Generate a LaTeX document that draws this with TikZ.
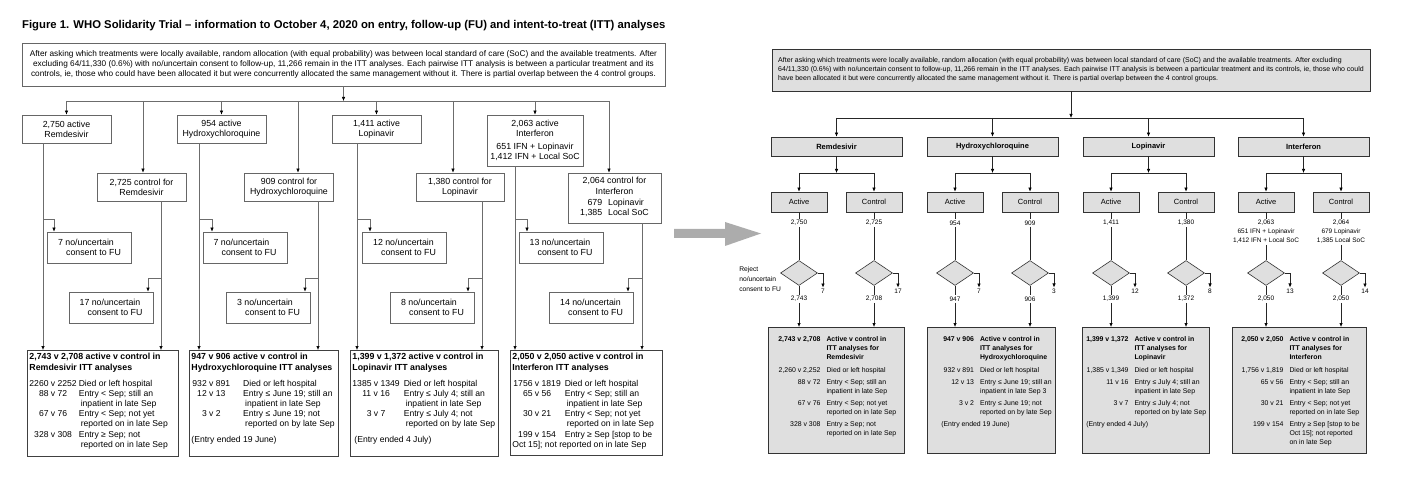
\documentclass[tikz,border=0pt]{standalone}
\usepackage{fontspec}
\setmainfont{Liberation Sans}
\usetikzlibrary{positioning,shapes.geometric,arrows.meta}

% fixed-size box content, text starting at the top
\newcommand{\fillbox}[3]{\parbox[c][#2][t]{#1}{\raggedright #3}}

\begin{document}
\begin{tikzpicture}[x=1pt, y=-1pt,
    >={Latex[length=4pt,width=3.4pt,color=black]},
    boxL/.style={draw=gray!80!black, line width=0.6pt, align=center, inner sep=2pt, font=\fontsize{8.8}{10.2}\selectfont},
    noteL/.style={boxL, align=left, minimum width=84pt, minimum height=31pt},
    resL/.style={draw=black!75, line width=0.9pt, anchor=north west, inner xsep=2pt, inner ysep=3pt, font=\fontsize{8.8}{10.2}\selectfont},
    lineL/.style={draw=gray!85!black, line width=0.6pt},
    boxR/.style={draw=black!80, fill=gray!25, line width=0.6pt, inner sep=1pt},
    headR/.style={boxR, minimum width=131pt, minimum height=19pt, font=\bfseries\fontsize{7.5}{9}\selectfont},
    armR/.style={boxR, minimum width=56pt, minimum height=20pt, font=\fontsize{7.5}{9}\selectfont},
    numR/.style={inner sep=1pt, align=center, font=\fontsize{6.5}{9}\selectfont},
    checkR/.style={diamond, aspect=1.5, draw=black!80, fill=gray!25, line width=0.6pt, inner sep=0pt, minimum width=37pt, minimum height=25pt},
    resR/.style={boxR, anchor=north west, inner xsep=0pt, inner ysep=8pt, font=\fontsize{6.9}{9}\selectfont},
    lineR/.style={draw=black!85, line width=0.6pt},
]
    \useasboundingbox (0,0) rectangle (1402,478);

    % ---------- original figure ----------
    \node[anchor=west, inner sep=0pt, font=\bfseries\fontsize{11.3}{13}\selectfont] (title) at (22,26)
        {Figure 1. WHO Solidarity Trial – information to October 4, 2020 on entry, follow-up (FU) and intent-to-treat (ITT) analyses};
    \node[boxL, minimum width=643pt, minimum height=43pt, font=\fontsize{8.25}{10}\selectfont] (introL) at (343.5,64.5)
        {After asking which treatments were locally available, random allocation (with equal probability) was between local standard of care (SoC) and the available treatments. After\\
         excluding 64/11,330 (0.6\%) with no/uncertain consent to follow-up, 11,266 remain in the ITT analyses. Each pairwise ITT analysis is between a particular treatment and its\\
         controls, ie, those who could have been allocated it but were concurrently allocated the same management without it. There is partial overlap between the 4 control groups.};
    \coordinate (joinL) at (343.5,101);

    % nodes
    \node[boxL, minimum width=89pt, minimum height=28pt] (remA) at (66.5,129)  {2,750 active\\Remdesivir};
    \node[boxL, minimum width=89pt, minimum height=28pt] (remC) at (141.5,187) {2,725 control for\\Remdesivir};
    \node[boxL, minimum width=89pt, minimum height=28pt] (hydA) at (221.5,129) {954 active\\Hydroxychloroquine};
    \node[boxL, minimum width=89pt, minimum height=28pt] (hydC) at (289,187)   {909 control for\\Hydroxychloroquine};
    \node[boxL, minimum width=89pt, minimum height=28pt] (lopA) at (376.5,129) {1,411 active\\Lopinavir};
    \node[boxL, minimum width=88pt, minimum height=28pt] (lopC) at (460,187)   {1,380 control for\\Lopinavir};
    \node[boxL, minimum width=96pt, minimum height=51pt] (intA) at (535,140.5)
        {2,063 active\\Interferon\\[3pt]651 IFN + Lopinavir\\1,412 IFN + Local SoC};
    \node[boxL, minimum width=93pt, minimum height=50pt] (intC) at (614.5,198)
        {2,064 control for\\Interferon\\[3pt]\begin{tabular}{@{}r@{\hspace{6pt}}l@{}}679&Lopinavir\\1,385&Local SoC\end{tabular}};

    \node[noteL] (remAn) at (89.5,247.5)  {7 no/uncertain\\\hspace*{8pt}consent to FU};
    \node[noteL] (remCn) at (111,307.5)   {17 no/uncertain\\\hspace*{8pt}consent to FU};
    \node[noteL] (hydAn) at (245,247.5)   {7 no/uncertain\\\hspace*{8pt}consent to FU};
    \node[noteL] (hydCn) at (268.5,307.5) {3 no/uncertain\\\hspace*{8pt}consent to FU};
    \node[noteL] (lopAn) at (404.5,247.5) {12 no/uncertain\\\hspace*{8pt}consent to FU};
    \node[noteL] (lopCn) at (432.5,307.5) {8 no/uncertain\\\hspace*{8pt}consent to FU};
    \node[noteL] (intAn) at (561,247.5)   {13 no/uncertain\\\hspace*{8pt}consent to FU};
    \node[noteL] (intCn) at (591.5,307.5) {14 no/uncertain\\\hspace*{8pt}consent to FU};

    \node[resL] (remR) at (27,350) {\fillbox{147pt}{100pt}{%
        \textbf{2,743 v 2,708 active v control in\\Remdesivir ITT analyses}\par\vspace{5.8pt}
        \fontsize{8.6}{10.2}\selectfont
        \begin{tabular}[t]{@{}c@{\hspace{2pt}}l@{}}
        2260 v 2252 & Died or left hospital\\
        88 v 72     & Entry < Sep; still an\\
                    & \hspace{2pt}inpatient in late Sep\\
        67 v 76     & Entry < Sep; not yet\\
                    & \hspace{2pt}reported on in late Sep\\
        328 v 308   & Entry ≥ Sep; not\\
                    & \hspace{2pt}reported on in late Sep
        \end{tabular}}};
    \node[resL] (hydR) at (189,350) {\fillbox{145pt}{100pt}{%
        \textbf{947 v 906 active v control in\\Hydroxychloroquine ITT analyses}\par\vspace{5.8pt}
        \fontsize{8.6}{10.2}\selectfont
        \begin{tabular}[t]{@{\hspace{1pt}}c@{\hspace{13pt}}l@{}}
        932 v 891 & Died or left hospital\\
        12 v 13   & Entry ≤ June 19; still an\\
                  & \hspace{2pt}inpatient in late Sep\\
        3 v 2     & Entry ≤ June 19; not\\
                  & \hspace{2pt}reported on by late Sep\\[5.8pt]
        \multicolumn{2}{@{}l@{}}{(Entry ended 19 June)}
        \end{tabular}}};
    \node[resL] (lopR) at (350,350) {\fillbox{144pt}{100pt}{%
        \textbf{1,399 v 1,372 active v control in\\Lopinavir ITT analyses}\par\vspace{5.8pt}
        \fontsize{8.6}{10.2}\selectfont
        \begin{tabular}[t]{@{}c@{\hspace{4pt}}l@{}}
        1385 v 1349 & Died or left hospital\\
        11 v 16     & Entry ≤ July 4; still an\\
                    & \hspace{2pt}inpatient in late Sep\\
        3 v 7       & Entry ≤ July 4; not\\
                    & \hspace{2pt}reported on by late Sep\\[5.8pt]
        \multicolumn{2}{@{\hspace{2pt}}l@{}}{(Entry ended 4 July)}
        \end{tabular}}};
    \node[resL] (intR) at (510,350) {\fillbox{148pt}{99pt}{%
        \textbf{2,050 v 2,050 active v control in\\Interferon ITT analyses}\par\vspace{5.8pt}
        \fontsize{8.6}{10.2}\selectfont
        \begin{tabular}[t]{@{\hspace{1pt}}c@{\hspace{4pt}}l@{}}
        1756 v 1819 & Died or left hospital\\
        65 v 56     & Entry < Sep; still an\\
                    & \hspace{2pt}inpatient in late Sep\\
        30 v 21     & Entry < Sep; not yet\\
                    & \hspace{2pt}reported on in late Sep\\
        199 v 154   & Entry ≥ Sep [stop to be\\
        \multicolumn{2}{@{}l@{}}{Oct 15]; not reported on in late Sep}
        \end{tabular}}};

    % x of the down lines and of the entries into the side boxes
    \coordinate (remCt) at (143,0); \coordinate (hydCt) at (298,0);
    \coordinate (lopCt) at (453,0); \coordinate (intCt) at (609,0);
    \coordinate (remAl) at (43,0);  \coordinate (remAe) at (54,0);
    \coordinate (remCl) at (161,0); \coordinate (remCe) at (148,0);
    \coordinate (hydAl) at (199,0); \coordinate (hydAe) at (212,0);
    \coordinate (hydCl) at (318,0); \coordinate (hydCe) at (305,0);
    \coordinate (lopAl) at (357,0); \coordinate (lopAe) at (370,0);
    \coordinate (lopCl) at (482,0); \coordinate (lopCe) at (468,0);
    \coordinate (intAl) at (515,0); \coordinate (intAe) at (527,0);
    \coordinate (intCl) at (642,0); \coordinate (intCe) at (628,0);

    % lines
    \draw[lineL,->] (introL) -- (joinL);
    \draw[lineL] (remA.north |- joinL) -- (intCt |- joinL);
    \draw[lineL,->] (remA.north |- joinL) -- (remA.north);
    \draw[lineL,->] (hydA.north |- joinL) -- (hydA.north);
    \draw[lineL,->] (lopA.north |- joinL) -- (lopA.north);
    \draw[lineL,->] (intA.north |- joinL) -- (intA.north);
    \draw[lineL,->] (remCt |- joinL) -- (remCt |- remC.north);
    \draw[lineL,->] (hydCt |- joinL) -- (hydCt |- hydC.north);
    \draw[lineL,->] (lopCt |- joinL) -- (lopCt |- lopC.north);
    \draw[lineL,->] (intCt |- joinL) -- (intCt |- intC.north);

    \draw[lineL,->] (remAl |- remA.south) -- (remAl |- remR.north);
    \draw[lineL,->] (remCl |- remC.south) -- (remCl |- remR.north);
    \draw[lineL,->] (hydAl |- hydA.south) -- (hydAl |- hydR.north);
    \draw[lineL,->] (hydCl |- hydC.south) -- (hydCl |- hydR.north);
    \draw[lineL,->] (lopAl |- lopA.south) -- (lopAl |- lopR.north);
    \draw[lineL,->] (lopCl |- lopC.south) -- (lopCl |- lopR.north);
    \draw[lineL,->] (intAl |- intA.south) -- (intAl |- intR.north);
    \draw[lineL,->] (intCl |- intC.south) -- (intCl |- intR.north);

    \draw[lineL,->] (remAl |- remAn.north) ++(0,-12) -| (remAn.north -| remAe);
    \draw[lineL,->] (remCl |- remCn.north) ++(0,-13) -| (remCn.north -| remCe);
    \draw[lineL,->] (hydAl |- hydAn.north) ++(0,-12) -| (hydAn.north -| hydAe);
    \draw[lineL,->] (hydCl |- hydCn.north) ++(0,-13) -| (hydCn.north -| hydCe);
    \draw[lineL,->] (lopAl |- lopAn.north) ++(0,-12) -| (lopAn.north -| lopAe);
    \draw[lineL,->] (lopCl |- lopCn.north) ++(0,-13) -| (lopCn.north -| lopCe);
    \draw[lineL,->] (intAl |- intAn.north) ++(0,-12) -| (intAn.north -| intAe);
    \draw[lineL,->] (intCl |- intCn.north) ++(0,-13) -| (intCn.north -| intCe);

    % ---------- big arrow ----------
    \fill[gray!65] (674,229) -- (725,229) -- (725,222) -- (761,233.5) -- (725,246) -- (725,238) -- (674,238) -- cycle;

    % ---------- redesigned figure ----------
    \node[boxR, minimum width=598pt, minimum height=42pt, align=left, font=\fontsize{7}{9}\selectfont] (introR) at (1071,70)
        {After asking which treatments were locally available, random allocation (with equal probability) was between local standard of care (SoC) and the available treatments. After excluding\\
         64/11,330 (0.6\%) with no/uncertain consent to follow-up, 11,266 remain in the ITT analyses. Each pairwise ITT analysis is between a particular treatment and its controls, ie, those who could\\
         have been allocated it but were concurrently allocated the same management without it. There is partial overlap between the 4 control groups.};
    \coordinate (joinR) at (1071,118);

    % nodes
    \node[headR] (hdrRem) at (836.5,146.5)  {Remdesivir};
    \node[headR] (hdrHyd) at (992.5,146.5)  {Hydroxychloroquine};
    \node[headR] (hdrLop) at (1148.5,146.5) {Lopinavir};
    \node[headR] (hdrInt) at (1303.5,146.5) {Interferon};
    \coordinate (brRem) at (836.5,173);  \coordinate (brHyd) at (992.5,173);
    \coordinate (brLop) at (1148.5,173); \coordinate (brInt) at (1303.5,173);

    \node[armR] (actRem) at (799,202)  {Active};  \node[armR] (ctlRem) at (874,202)  {Control};
    \node[armR] (actHyd) at (955,202)  {Active};  \node[armR] (ctlHyd) at (1030,202) {Control};
    \node[armR] (actLop) at (1111,202) {Active};  \node[armR] (ctlLop) at (1186,202) {Control};
    \node[armR] (actInt) at (1266,202) {Active};  \node[armR] (ctlInt) at (1341,202) {Control};

    \node[numR] (nRemA) at (799,223)  {2,750};  \node[numR] (nRemC) at (874,223)  {2,725};
    \node[numR] (nHydA) at (955,223)  {954};    \node[numR] (nHydC) at (1030,223) {909};
    \node[numR] (nLopA) at (1111,223) {1,411};  \node[numR] (nLopC) at (1186,223) {1,380};
    \node[numR] (nIntA) at (1266,232) {2,063\\651 IFN + Lopinavir\\1,412 IFN + Local SoC};
    \node[numR] (nIntC) at (1341,232) {2,064\\679 Lopinavir\\1,385 Local SoC};

    \node[checkR] (dRemA) at (799,273)  {};  \node[checkR] (dRemC) at (874,273)  {};
    \node[checkR] (dHydA) at (955,273)  {};  \node[checkR] (dHydC) at (1030,273) {};
    \node[checkR] (dLopA) at (1111,273) {};  \node[checkR] (dLopC) at (1186,273) {};
    \node[checkR] (dIntA) at (1266,273) {};  \node[checkR] (dIntC) at (1341,273) {};
    \node[numR, align=left, font=\fontsize{6.7}{10}\selectfont] (reject) [left=-2pt of dRemA, yshift=-6pt] {Reject\\no/uncertain\\consent to FU};

    \node[numR] (xRemA) at (823,291)  {7};   \node[numR] (xRemC) at (898,291)  {17};
    \node[numR] (xHydA) at (979,291)  {7};   \node[numR] (xHydC) at (1054,291) {3};
    \node[numR] (xLopA) at (1135,291) {12};  \node[numR] (xLopC) at (1210,291) {8};
    \node[numR] (xIntA) at (1290,291) {13};  \node[numR] (xIntC) at (1365,291) {14};

    \node[numR] (mRemA) at (799,299)  {2,743};  \node[numR] (mRemC) at (874,299)  {2,708};
    \node[numR] (mHydA) at (955,299)  {947};    \node[numR] (mHydC) at (1030,299) {906};
    \node[numR] (mLopA) at (1111,299) {1,399};  \node[numR] (mLopC) at (1186,299) {1,372};
    \node[numR] (mIntA) at (1266,299) {2,050};  \node[numR] (mIntC) at (1341,299) {2,050};

    \node[resR] (resRem) at (768,327) {\fillbox{136pt}{110pt}{%
        \begin{tabular}[t]{@{\hspace{10pt}}r@{\hspace{6pt}}l@{}}
        \textbf{2,743 v 2,708} & \textbf{Active v control in}\\
                      & \textbf{ITT analyses for}\\
                      & \textbf{Remdesivir}\\[4pt]
        2,260 v 2,252 & Died or left hospital\\[3pt]
        88 v 72       & Entry < Sep; still an\\
                      & inpatient in late Sep\\[3pt]
        67 v 76       & Entry < Sep; not yet\\
                      & reported on in late Sep\\[3pt]
        328 v 308     & Entry ≥ Sep; not\\
                      & reported on in late Sep
        \end{tabular}}};
    \node[resR] (resHyd) at (927,327) {\fillbox{128pt}{110pt}{%
        \begin{tabular}[t]{@{\hspace{16pt}}r@{\hspace{6pt}}l@{}}
        \textbf{947 v 906} & \textbf{Active v control in}\\
                  & \textbf{ITT analyses for}\\
                  & \textbf{Hydroxychloroquine}\\[4pt]
        932 v 891 & Died or left hospital\\[3pt]
        12 v 13   & Entry ≤ June 19; still an\\
                  & inpatient in late Sep 3\\[3pt]
        3 v 2     & Entry ≤ June 19; not\\
                  & reported on by late Sep\\[3pt]
        \multicolumn{2}{@{\hspace{14pt}}l@{}}{(Entry ended 19 June)}
        \end{tabular}}};
    \node[resR] (resLop) at (1082,327) {\fillbox{127pt}{110pt}{%
        \begin{tabular}[t]{@{\hspace{4pt}}r@{\hspace{6pt}}l@{}}
        \textbf{1,399 v 1,372} & \textbf{Active v control in}\\
                      & \textbf{ITT analyses for}\\
                      & \textbf{Lopinavir}\\[4pt]
        1,385 v 1,349 & Died or left hospital\\[3pt]
        11 v 16       & Entry ≤ July 4; still an\\
                      & inpatient in late Sep\\[3pt]
        3 v 7         & Entry ≤ July 4; not\\
                      & reported on by late Sep\\[3pt]
        \multicolumn{2}{@{\hspace{4pt}}l@{}}{(Entry ended 4 July)}
        \end{tabular}}};
    \node[resR] (resInt) at (1232,327) {\fillbox{134pt}{110pt}{%
        \begin{tabular}[t]{@{\hspace{9pt}}r@{\hspace{6pt}}l@{}}
        \textbf{2,050 v 2,050} & \textbf{Active v control in}\\
                      & \textbf{ITT analyses for}\\
                      & \textbf{Interferon}\\[4pt]
        1,756 v 1,819 & Died or left hospital\\[3pt]
        65 v 56       & Entry < Sep; still an\\
                      & inpatient in late Sep\\[3pt]
        30 v 21       & Entry < Sep; not yet\\
                      & reported on in late Sep\\[3pt]
        199 v 154     & Entry ≥ Sep [stop to be\\
                      & Oct 15]; not reported\\
                      & on in late Sep
        \end{tabular}}};

    % lines
    \draw[lineR,->] (introR) -- (joinR);
    \draw[lineR] (hdrRem.north |- joinR) -- (hdrInt.north |- joinR);
    \draw[lineR,->] (hdrRem.north |- joinR) -- (hdrRem);
    \draw[lineR,->] (hdrHyd.north |- joinR) -- (hdrHyd);
    \draw[lineR,->] (hdrLop.north |- joinR) -- (hdrLop);
    \draw[lineR,->] (hdrInt.north |- joinR) -- (hdrInt);

    \draw[lineR,->] (hdrRem) -- (brRem);
    \draw[lineR] (actRem.north |- brRem) -- (ctlRem.north |- brRem);
    \draw[lineR,->] (actRem.north |- brRem) -- (actRem);
    \draw[lineR,->] (ctlRem.north |- brRem) -- (ctlRem);
    \draw[lineR,->] (hdrHyd) -- (brHyd);
    \draw[lineR] (actHyd.north |- brHyd) -- (ctlHyd.north |- brHyd);
    \draw[lineR,->] (actHyd.north |- brHyd) -- (actHyd);
    \draw[lineR,->] (ctlHyd.north |- brHyd) -- (ctlHyd);
    \draw[lineR,->] (hdrLop) -- (brLop);
    \draw[lineR] (actLop.north |- brLop) -- (ctlLop.north |- brLop);
    \draw[lineR,->] (actLop.north |- brLop) -- (actLop);
    \draw[lineR,->] (ctlLop.north |- brLop) -- (ctlLop);
    \draw[lineR,->] (hdrInt) -- (brInt);
    \draw[lineR] (actInt.north |- brInt) -- (ctlInt.north |- brInt);
    \draw[lineR,->] (actInt.north |- brInt) -- (actInt);
    \draw[lineR,->] (ctlInt.north |- brInt) -- (ctlInt);

    \draw[lineR] (actRem) -- (nRemA);  \draw[lineR] (nRemA) -- (dRemA);
    \draw[lineR] (ctlRem) -- (nRemC);  \draw[lineR] (nRemC) -- (dRemC);
    \draw[lineR] (actHyd) -- (nHydA);  \draw[lineR] (nHydA) -- (dHydA);
    \draw[lineR] (ctlHyd) -- (nHydC);  \draw[lineR] (nHydC) -- (dHydC);
    \draw[lineR] (actLop) -- (nLopA);  \draw[lineR] (nLopA) -- (dLopA);
    \draw[lineR] (ctlLop) -- (nLopC);  \draw[lineR] (nLopC) -- (dLopC);
    \draw[lineR] (actInt) -- (nIntA);  \draw[lineR] (nIntA) -- (dIntA);
    \draw[lineR] (ctlInt) -- (nIntC);  \draw[lineR] (nIntC) -- (dIntC);

    \draw[lineR,->] (dRemA.east) -| (xRemA);  \draw[lineR,->] (dRemC.east) -| (xRemC);
    \draw[lineR,->] (dHydA.east) -| (xHydA);  \draw[lineR,->] (dHydC.east) -| (xHydC);
    \draw[lineR,->] (dLopA.east) -| (xLopA);  \draw[lineR,->] (dLopC.east) -| (xLopC);
    \draw[lineR,->] (dIntA.east) -| (xIntA);  \draw[lineR,->] (dIntC.east) -| (xIntC);

    \draw[lineR] (dRemA) -- (mRemA);  \draw[lineR,->] (mRemA) -- (mRemA |- resRem.north);
    \draw[lineR] (dRemC) -- (mRemC);  \draw[lineR,->] (mRemC) -- (mRemC |- resRem.north);
    \draw[lineR] (dHydA) -- (mHydA);  \draw[lineR,->] (mHydA) -- (mHydA |- resHyd.north);
    \draw[lineR] (dHydC) -- (mHydC);  \draw[lineR,->] (mHydC) -- (mHydC |- resHyd.north);
    \draw[lineR] (dLopA) -- (mLopA);  \draw[lineR,->] (mLopA) -- (mLopA |- resLop.north);
    \draw[lineR] (dLopC) -- (mLopC);  \draw[lineR,->] (mLopC) -- (mLopC |- resLop.north);
    \draw[lineR] (dIntA) -- (mIntA);  \draw[lineR,->] (mIntA) -- (mIntA |- resInt.north);
    \draw[lineR] (dIntC) -- (mIntC);  \draw[lineR,->] (mIntC) -- (mIntC |- resInt.north);
\end{tikzpicture}
\end{document}
